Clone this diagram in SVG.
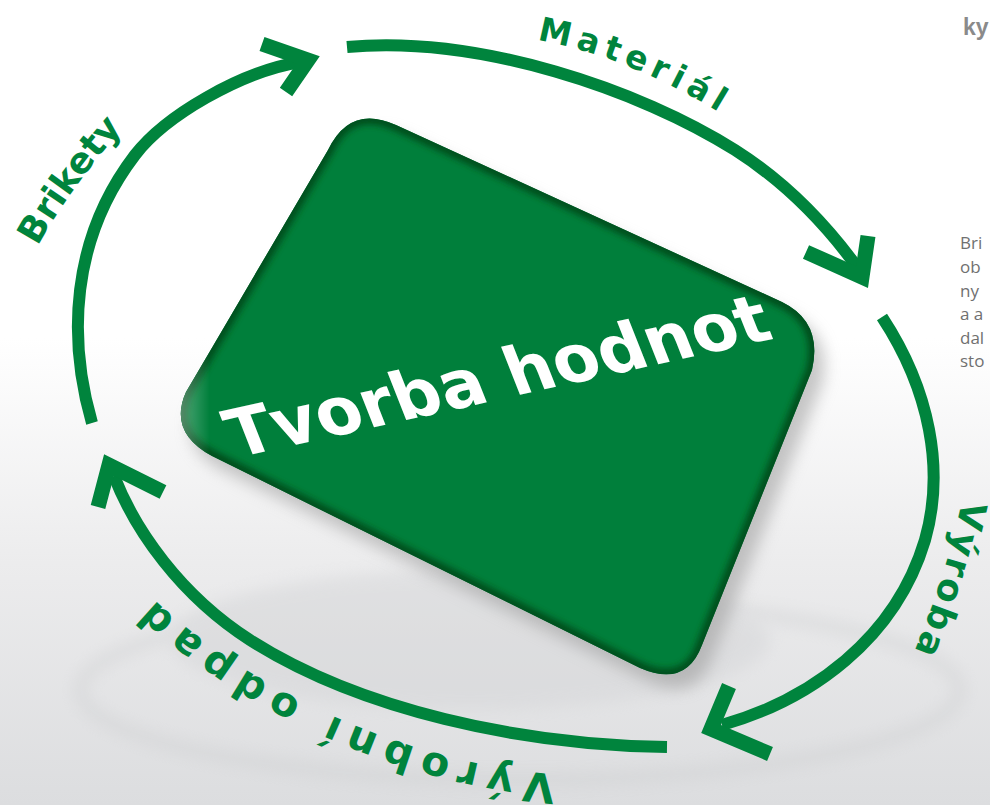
<svg xmlns="http://www.w3.org/2000/svg" width="990" height="805" viewBox="0 0 990 805">
<defs>
<style>
.ring{fill:none;stroke:#00843d;stroke-width:12;stroke-linecap:butt}
.head{fill:none;stroke:#00843d;stroke-width:15;stroke-linejoin:miter;stroke-miterlimit:6;stroke-linecap:butt}
.lbl{font-family:"DejaVu Sans",Verdana,sans-serif;font-weight:bold;fill:#00843d}
.page{font-family:"Open Sans","Noto Sans",sans-serif;font-size:17px;fill:#707070}
</style>
<linearGradient id="bg" x1="0" y1="0" x2="0" y2="1">
<stop offset="0" stop-color="#ffffff"/>
<stop offset="0.42" stop-color="#ffffff"/>
<stop offset="0.7" stop-color="#ececed"/>
<stop offset="1" stop-color="#dcdddf"/>
</linearGradient>
<linearGradient id="hl" x1="0" y1="0" x2="1" y2="0">
<stop offset="0" stop-color="#ffffff" stop-opacity="0.45"/>
<stop offset="0.06" stop-color="#ffffff" stop-opacity="0"/>
</linearGradient>
<filter id="blur8" x="-20%" y="-20%" width="140%" height="140%"><feGaussianBlur stdDeviation="8"/></filter>
<filter id="blur3" x="-10%" y="-10%" width="120%" height="120%"><feGaussianBlur stdDeviation="3"/></filter>
<path id="sq" d="M328,150 Q350,104 396,125 L782,302 Q823,322 812,370 L702,645 Q686,688 640,668 L212,456 Q168,432 186,392 Z"/>
<clipPath id="sqclip"><use href="#sq"/></clipPath>
<path id="pMat" d="M537,40 Q640,58 750,132"/>
<path id="pBri" d="M38,246 Q68,190 130,120"/>
<path id="pVyr" d="M962,500 Q945,583 905,673"/>
<path id="pOdp" d="M556,774 C440,768 250,705 130,575"/>
</defs>
<rect width="990" height="805" fill="url(#bg)"/>
<g id="reflection" opacity="0.45">
<ellipse cx="520" cy="690" rx="440" ry="90" fill="none" stroke="#c8c9cb" stroke-width="10" filter="url(#blur8)"/>
<ellipse cx="470" cy="640" rx="300" ry="70" fill="#d2d3d5" filter="url(#blur8)"/>
</g>
<g id="page-text">
<text x="963" y="35" font-family="'Liberation Sans',sans-serif" font-weight="bold" font-size="23" fill="#8a8a8a">ky</text>
<text class="page" x="960" y="249">Bri</text>
<text class="page" x="960" y="273">ob</text>
<text class="page" x="960" y="297">ny</text>
<text class="page" x="960" y="320">a a</text>
<text class="page" x="960" y="344">dal</text>
<text class="page" x="960" y="367">sto</text>
</g>
<g id="center-node">
<use href="#sq" fill="#9a9a9a" opacity="0.55" transform="translate(10,14)" filter="url(#blur8)"/>
<use href="#sq" fill="#007f3b"/>
<g clip-path="url(#sqclip)">
<use href="#sq" fill="none" stroke="#00501f" stroke-width="12" filter="url(#blur3)"/>
<rect x="170" y="100" width="660" height="600" fill="url(#hl)"/>
</g>
<text transform="translate(506,398) rotate(-12.5) skewX(9)" text-anchor="middle" font-family="'DejaVu Sans',Verdana,sans-serif" font-weight="bold" font-size="67" fill="#ffffff">Tvorba hodnot</text>
</g>
<g id="connectors">
<path class="ring" d="M92,423 C68,340 70,240 135,155 C165,116 240,72 300,62"/>
<polyline class="head" points="262,44 308,60 286,92"/>
<path class="ring" d="M347,47 C480,35 640,90 735,150 C790,185 830,230 857,267"/>
<polyline class="head" points="868,236 862,277 806,252"/>
<path class="ring" d="M882,317 C930,390 945,470 925,540 C895,640 810,700 722,725"/>
<polyline class="head" points="729,686 711,729 770,754"/>
<path class="ring" d="M667,747 C520,745 360,710 250,640 C180,595 135,530 114,476"/>
<polyline class="head" points="98,507 109,465 163,492"/>
</g>
<g id="label-material"><text class="lbl" font-size="33" letter-spacing="6"><textPath href="#pMat">Materiál</textPath></text></g>
<g id="label-brikety"><text class="lbl" font-size="36" letter-spacing="0"><textPath href="#pBri">Brikety</textPath></text></g>
<g id="label-vyroba"><text class="lbl" font-size="36" letter-spacing="3"><textPath href="#pVyr">Výroba</textPath></text></g>
<g id="label-odpad"><text class="lbl" font-size="41" letter-spacing="9"><textPath href="#pOdp">Výrobní odpad</textPath></text></g>
</svg>
